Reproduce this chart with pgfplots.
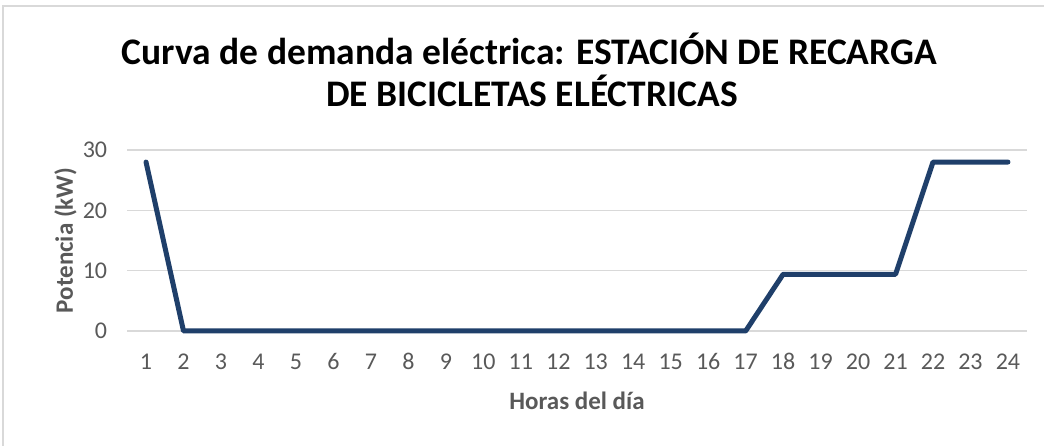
\documentclass[border=0pt]{standalone}
\usepackage{pgfplots}
\pgfplotsset{compat=1.18}
\usepackage{fontspec}
\setmainfont{Carlito}
\definecolor{linecol}{HTML}{1F3F6A}
\definecolor{gridcol}{HTML}{D9D9D9}
\definecolor{txtcol}{HTML}{595959}
\begin{document}
\begin{tikzpicture}
\path[use as bounding box] (-127.3pt,-115pt) rectangle (916.7pt,331pt);
\draw[gridcol,line width=1.5pt] (-124.3pt,-115pt) -- (-124.3pt,325pt) -- (916.7pt,325pt);
\begin{axis}[
  at={(0,0)}, anchor=origin,
  scale only axis, width=899.4pt, height=181pt,
  xmin=0.5, xmax=24.5, ymin=0, ymax=30,
  xtick={1,...,24}, ytick={0,10,20,30},
  axis line style={draw=none},
  major tick length=0pt,
  ymajorgrids, grid style={gridcol,line width=1.5pt},
  tick label style={font=\fontsize{24}{29}\selectfont, text=txtcol, inner sep=0pt},
  /pgf/number format/assume math mode=true,
  xticklabel style={anchor=base, yshift=-39pt},
  yticklabel style={anchor=east, xshift=-20pt},
  xlabel={\textbf{Horas del día}},
  ylabel={\textbf{Potencia (kW)}},
  label style={font=\fontsize{25}{30}\selectfont, text=txtcol, inner sep=0pt},
  xlabel style={at={(axis description cs:0.5,0)}, anchor=base, yshift=-79pt},
  ylabel style={at={(axis description cs:-0.0604,0.5)}, anchor=base},
  clip=false,
]
\addplot[linecol, line width=5pt, line cap=round, line join=round] coordinates {
(1,28) (2,0) (3,0) (4,0) (5,0) (6,0) (7,0) (8,0) (9,0) (10,0) (11,0) (12,0)
(13,0) (14,0) (15,0) (16,0) (17,0) (18,9.4) (19,9.4) (20,9.4) (21,9.4)
(22,28) (23,28) (24,28)};
\end{axis}
\node[anchor=base, inner sep=0pt, font=\fontsize{37.5}{45}\selectfont\bfseries] at (402.2pt,266pt) {Curva de demanda eléctrica: ESTACIÓN DE RECARGA};
\node[anchor=base, inner sep=0pt, font=\fontsize{37.5}{45}\selectfont\bfseries] at (404.7pt,224pt) {DE BICICLETAS ELÉCTRICAS};
\end{tikzpicture}
\end{document}
